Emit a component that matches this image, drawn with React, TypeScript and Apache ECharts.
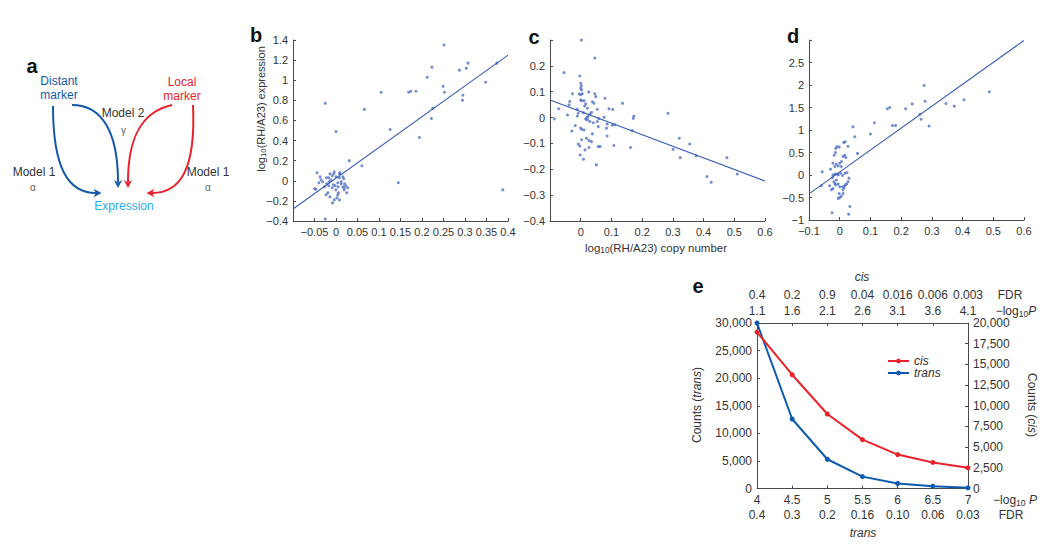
import React, { useEffect, useRef } from "react";
import * as echarts from "echarts";

const FONT = "Liberation Sans, Arial, Helvetica, sans-serif";
const AX = "#4a4a4a";
const TXT = "#333333";
const DOT = "#4f6fc4";
const FITC = "#3a5cb4";

// Panel b: log10 copy number vs log10 expression
const bPoints: number[][] = [
  [-0.025, 0.77], [0.0, 0.49], [0.066, 0.71], [0.105, 0.88], [0.126, 0.51], [0.145, -0.02],
  [0.169, 0.88], [0.174, 0.89], [0.186, 0.89], [0.194, 0.43], [0.212, 1.03], [0.223, 1.13],
  [0.222, 0.62], [0.225, 0.72], [0.249, 0.94], [0.252, 0.88], [0.251, 1.35], [0.287, 1.1],
  [0.295, 0.85], [0.294, 0.8], [0.303, 1.12], [0.307, 1.17], [0.348, 0.98], [0.374, 1.17],
  [0.388, -0.09], [0.031, 0.2], [0.06, 0.15], [-0.025, -0.38],
  [-0.044, 0.08], [-0.05, -0.08], [-0.047, -0.085], [-0.04, -0.02], [-0.035, 0.01], [-0.027, -0.06],
  [-0.022, -0.03], [-0.019, -0.12], [-0.023, -0.14], [-0.014, -0.16], [-0.008, -0.22], [-0.004, -0.19],
  [0.002, -0.17], [0.008, -0.19], [0.004, -0.14], [0.0, -0.09], [0.005, -0.06], [-0.004, 0.09],
  [0.0, 0.04], [0.008, 0.07], [0.008, 0.03], [0.016, 0.04], [0.012, -0.01], [0.016, -0.06],
  [0.019, -0.07], [0.019, -0.09], [0.023, -0.05], [0.025, -0.12], [0.027, -0.07], [-0.012, 0.01],
  [-0.016, -0.01], [-0.017, 0.03], [-0.009, 0.05], [-0.006, -0.04], [-0.002, -0.05], [-0.022, 0.03],
  [-0.031, -0.01], [0.009, 0.08], [-0.005, 0.07], [-0.014, 0.07], [-0.009, -0.07], [0.006, -0.12],
  [0.012, -0.03], [0.018, 0.02], [0.004, -0.02], [-0.017, -0.05], [-0.037, 0.04], [0.02, -0.03],
];
const bFit: number[][] = [[-0.1, -0.28], [0.4, 1.25]];

// Panel c
const cPoints: number[][] = [
  [0.002, 0.3], [0.046, 0.23], [-0.054, 0.174], [-0.003, 0.161], [0.0, 0.133], [0.002, 0.123],
  [0.0, 0.114], [0.003, 0.107], [-0.027, 0.092], [-0.005, 0.091], [0.0, 0.088], [0.005, 0.092],
  [0.026, 0.099], [0.046, 0.092], [0.049, 0.081], [0.079, 0.075], [-0.036, 0.062], [0.0, 0.068],
  [0.003, 0.065], [0.011, 0.065], [0.016, 0.053], [0.038, 0.061], [0.043, 0.055], [0.136, 0.055],
  [-0.038, 0.049], [-0.072, 0.034], [-0.011, 0.032], [0.022, 0.036], [0.054, 0.032], [0.092, 0.034],
  [0.104, 0.031], [0.284, 0.017], [-0.043, 0.01], [-0.011, 0.006], [-0.008, 0.017], [0.009, 0.019],
  [0.024, 0.004], [0.03, 0.014], [0.173, 0.006], [0.171, -0.003], [-0.086, -0.005], [0.016, -0.006],
  [0.022, -0.009], [0.03, -0.015], [0.054, -0.015], [0.059, -0.004], [0.076, 0.001], [0.086, -0.025],
  [0.103, -0.03], [0.111, -0.028], [-0.018, -0.031], [0.0, -0.041], [0.003, -0.045], [0.011, -0.048],
  [-0.029, -0.052], [0.057, -0.035], [0.084, -0.041], [0.168, -0.05], [0.038, -0.063], [0.086, -0.071],
  [0.019, -0.08], [0.003, -0.086], [0.035, -0.093], [0.027, -0.089], [0.321, -0.08], [-0.008, -0.102],
  [-0.003, -0.11], [0.355, -0.102], [0.108, -0.108], [0.057, -0.112], [0.063, -0.112], [0.027, -0.116],
  [0.162, -0.116], [0.301, -0.123], [0.014, -0.125], [-0.002, -0.145], [0.376, -0.148], [0.324, -0.155],
  [0.476, -0.155], [0.009, -0.161], [0.051, -0.183], [0.51, -0.218], [0.411, -0.228], [0.425, -0.25],
  [0.013, 0.045], [0.02, 0.0], [0.035, 0.02], [0.041, -0.02],
];
const cFit: number[][] = [[-0.1, 0.068], [0.6, -0.245]];

// Panel d
const dPoints: number[][] = [
  [-0.057, 0.07], [-0.06, -0.24], [-0.025, -0.84], [0.029, -0.87], [0.033, -0.7], [-0.033, -0.24],
  [-0.027, -0.33], [-0.022, -0.3], [-0.03, 0.13], [-0.024, -0.06], [-0.016, -0.19], [-0.013, -0.22],
  [-0.005, -0.52], [0.0, -0.5], [-0.011, -0.11], [-0.008, 0.02], [-0.005, 0.0], [-0.002, -0.41],
  [0.005, -0.47], [0.011, -0.41], [0.016, -0.24], [0.02, -0.21], [0.022, -0.2], [0.011, -0.33],
  [0.009, -0.26], [0.0, -0.26], [-0.005, -0.2], [0.027, -0.15], [0.03, -0.07], [-0.022, 0.26],
  [-0.016, 0.19], [-0.011, 0.24], [-0.005, 0.2], [0.0, 0.26], [0.005, 0.19], [-0.013, 0.59],
  [-0.009, 0.63], [-0.002, 0.62], [-0.018, 0.44], [-0.014, 0.5], [0.011, 0.41], [0.016, 0.44],
  [0.02, 0.39], [0.013, 0.72], [0.018, 0.74], [0.027, 0.64], [0.058, 0.48], [0.049, 0.85],
  [0.043, 1.07], [0.1, 0.91], [0.113, 1.16], [0.155, 1.47], [0.163, 1.5], [0.172, 1.1],
  [0.182, 1.1], [0.215, 1.47], [0.236, 1.58], [0.261, 1.35], [0.265, 1.24], [0.275, 1.99],
  [0.278, 1.64], [0.291, 1.09], [0.346, 1.59], [0.373, 1.53], [0.405, 1.67], [0.487, 1.85],
  [-0.022, 0.0], [-0.016, 0.02], [0.003, 0.04], [0.009, -0.01], [0.017, 0.04], [0.006, 0.3],
  [0.014, -0.28], [-0.019, -0.15], [0.024, 0.05],
];
const dFit: number[][] = [[-0.1, -0.42], [0.6, 2.99]];

// Panel e
const eX = [4, 4.5, 5, 5.5, 6, 6.5, 7];
const transCounts = [30000, 12600, 5300, 2150, 900, 420, 120];
const cisCounts = [18900, 13750, 9000, 5900, 4100, 3150, 2500];
const transFdr = ["0.4", "0.3", "0.2", "0.16", "0.10", "0.06", "0.03"];
const cisFdr = ["0.4", "0.2", "0.9", "0.04", "0.016", "0.006", "0.003"];
const cisLogP = ["1.1", "1.6", "2.1", "2.6", "3.1", "3.6", "4.1"];

const RED = "#e8232b";
const BLUE = "#0c5aad";
const DBLUE = "#1458a8";
const CYAN = "#2caee6";

function fmt(v: number): string {
  return String(parseFloat(v.toFixed(4))).replace("-", "\u2212");
}

const axisLine = { show: true, onZero: false, lineStyle: { color: AX, width: 1 } };
const axisTick = { show: true, inside: true, length: 3, lineStyle: { color: AX } };
const lbl = (fontSize: number, formatter: any, extra: any = {}) => ({
  fontSize, color: TXT, fontFamily: FONT, margin: 5, formatter, ...extra,
});

function valAxis(grid: number, min: number, max: number, interval: number, hide: number[], extra: any = {}) {
  return {
    gridIndex: grid, type: "value", min, max, interval,
    axisLine, axisTick, splitLine: { show: false },
    axisLabel: lbl(11, (v: number) => (hide.some((h) => Math.abs(h - v) < 1e-9) ? "" : fmt(v))),
    ...extra,
  };
}

const idx = (v: number) => Math.round((v - 4) / 0.5);

function arrowHead(tip: number[], dir: number[], color: string) {
  const [dx, dy] = dir;
  const px = -dy, py = dx;
  const L = 8, W = 4.2, N = 5.5;
  const p = [
    [tip[0], tip[1]],
    [tip[0] - dx * L + px * W, tip[1] - dy * L + py * W],
    [tip[0] - dx * N, tip[1] - dy * N],
    [tip[0] - dx * L - px * W, tip[1] - dy * L - py * W],
  ];
  return { type: "polygon", shape: { points: p }, style: { fill: color } };
}

function curve(x1: number, y1: number, c1x: number, c1y: number, c2x: number, c2y: number, x2: number, y2: number, color: string) {
  return {
    type: "bezierCurve",
    shape: { x1, y1, x2, y2, cpx1: c1x, cpy1: c1y, cpx2: c2x, cpy2: c2y },
    style: { stroke: color, lineWidth: 2, fill: "none" },
  };
}

function txt(x: number, y: number, text: string, opts: any = {}) {
  return {
    type: "text", x, y, rotation: opts.rotation || 0,
    style: {
      text, fill: opts.fill || TXT,
      fontSize: opts.fontSize || 12, fontFamily: FONT,
      fontWeight: opts.fontWeight || "normal", fontStyle: opts.fontStyle || "normal",
      align: "center", verticalAlign: "middle", rich: opts.rich,
    },
  };
}

const subRich = (size: number) => ({
  n: { fontSize: size, fontFamily: FONT, fill: TXT, color: TXT },
  s: { fontSize: size * 0.72, fontFamily: FONT, fill: TXT, color: TXT, verticalAlign: "bottom", padding: [size * 0.45, 0, 0, 0] },
  i: { fontSize: size, fontFamily: FONT, fontStyle: "italic", fill: TXT, color: TXT },
});

export default function App() {
  const ref = useRef<HTMLDivElement>(null);
  useEffect(() => {
    document.body.style.margin = "0";
    const chart = echarts.init(ref.current!, null, { renderer: "svg" });
    const graphic: any[] = [
      // panel letters
      txt(32, 66, "a", { fontSize: 20, fontWeight: "bold", fill: "#111" }),
      txt(256, 35, "b", { fontSize: 20, fontWeight: "bold", fill: "#111" }),
      txt(534, 37, "c", { fontSize: 20, fontWeight: "bold", fill: "#111" }),
      txt(793, 36, "d", { fontSize: 20, fontWeight: "bold", fill: "#111" }),
      txt(698, 286, "e", { fontSize: 20, fontWeight: "bold", fill: "#111" }),
      // panel a diagram
      txt(59, 81, "Distant", { fill: DBLUE }),
      txt(59, 94.5, "marker", { fill: DBLUE }),
      txt(182, 82, "Local", { fill: RED }),
      txt(182, 95.5, "marker", { fill: RED }),
      txt(123, 113, "Model 2"),
      txt(123.5, 130, "\u03b3", { fontSize: 10, fill: "#666" }),
      txt(34, 172, "Model 1"),
      txt(33, 187, "\u03b1", { fontSize: 10, fill: "#666" }),
      txt(208, 172, "Model 1"),
      txt(208, 187, "\u03b1", { fontSize: 10, fill: "#666" }),
      txt(124, 206, "Expression", { fill: CYAN }),
      curve(53, 106, 53, 168, 68, 193, 96, 193, DBLUE),
      curve(72, 105, 102, 105, 118, 132, 118, 182, DBLUE),
      curve(172, 105, 140, 112, 128, 140, 128, 182, RED),
      curve(193, 105, 196, 170, 180, 193, 152, 193, RED),
      arrowHead([101.5, 193], [1, 0], DBLUE),
      arrowHead([118, 188], [0, 1], DBLUE),
      arrowHead([128, 188], [0, 1], RED),
      arrowHead([146.5, 193], [-1, 0], RED),
      // axis titles
      txt(261, 109, "{n|log}{s|10}{n|(RH/A23) expression}", { rotation: Math.PI / 2, rich: subRich(11) }),
      txt(656, 248, "{n|log}{s|10}{n|(RH/A23) copy number}", { rich: subRich(11.5) }),
      txt(697, 405, "{n|Counts (}{i|trans}{n|)}", { rotation: Math.PI / 2, rich: subRich(12) }),
      txt(1032, 405, "{n|Counts (}{i|cis}{n|)}", { rotation: -Math.PI / 2, rich: subRich(12) }),
      txt(862, 277, "cis", { fontStyle: "italic" }),
      txt(863, 533, "trans", { fontStyle: "italic" }),
      txt(1010, 294.5, "FDR"),
      txt(1016, 311, "{n|\u2212log}{s|10}{i|P}", { rich: subRich(12) }),
      txt(1015, 500, "{n|\u2212log}{s|10}{n| }{i|P}", { rich: subRich(12) }),
      txt(1011, 515, "FDR"),
    ];

    const option: any = {
      animation: false,
      backgroundColor: "#ffffff",
      textStyle: { fontFamily: FONT },
      grid: [
        { left: 293, top: 40, width: 215, height: 181 },
        { left: 550, top: 40, width: 215, height: 181 },
        { left: 809, top: 40, width: 215, height: 180 },
        { left: 757, top: 323, width: 211, height: 165.5 },
      ],
      xAxis: [
        valAxis(0, -0.1, 0.4, 0.05, [-0.1]),
        valAxis(1, -0.1, 0.6, 0.1, [-0.1]),
        valAxis(2, -0.1, 0.6, 0.1, []),
        {
          gridIndex: 3, type: "value", min: 4, max: 7, interval: 0.5,
          axisLine, axisTick, splitLine: { show: false },
          axisLabel: lbl(12, (v: number) => `${fmt(v)}\n${transFdr[idx(v)]}`, { lineHeight: 15, margin: 4 }),
        },
        {
          gridIndex: 3, type: "value", position: "top", min: 4, max: 7, interval: 0.5,
          axisLine, axisTick, splitLine: { show: false },
          axisLabel: lbl(12, (v: number) => `${cisFdr[idx(v)]}\n${cisLogP[idx(v)]}`, { lineHeight: 16, margin: 4 }),
        },
      ],
      yAxis: [
        valAxis(0, -0.4, 1.4, 0.2, []),
        valAxis(1, -0.4, 0.3, 0.1, [0.3]),
        valAxis(2, -1, 3, 0.5, [3]),
        {
          gridIndex: 3, type: "value", min: 0, max: 30000, interval: 5000,
          axisLine, axisTick, splitLine: { show: false },
          axisLabel: lbl(12, (v: number) => v.toLocaleString("en-US")),
        },
        {
          gridIndex: 3, type: "value", position: "right", min: 0, max: 20000, interval: 2500,
          axisLine, axisTick, splitLine: { show: false },
          axisLabel: lbl(12, (v: number) => v.toLocaleString("en-US")),
        },
      ],
      legend: {
        data: ["cis", "trans"], orient: "vertical", left: 887, top: 355,
        padding: 0, itemGap: 0, itemWidth: 21, itemHeight: 6,
        textStyle: { fontSize: 12, lineHeight: 11, fontStyle: "italic", color: TXT, fontFamily: FONT },
      },
      series: [
        { type: "scatter", name: "b", xAxisIndex: 0, yAxisIndex: 0, data: bPoints, symbolSize: 3, itemStyle: { color: DOT } },
        { type: "line", name: "bfit", xAxisIndex: 0, yAxisIndex: 0, data: bFit, symbol: "none", lineStyle: { color: FITC, width: 1.1 } },
        { type: "scatter", name: "c", xAxisIndex: 1, yAxisIndex: 1, data: cPoints, symbolSize: 3, itemStyle: { color: DOT } },
        { type: "line", name: "cfit", xAxisIndex: 1, yAxisIndex: 1, data: cFit, symbol: "none", lineStyle: { color: FITC, width: 1.1 } },
        { type: "scatter", name: "d", xAxisIndex: 2, yAxisIndex: 2, data: dPoints, symbolSize: 3, itemStyle: { color: DOT } },
        { type: "line", name: "dfit", xAxisIndex: 2, yAxisIndex: 2, data: dFit, symbol: "none", lineStyle: { color: FITC, width: 1.1 } },
        {
          type: "line", name: "trans", xAxisIndex: 3, yAxisIndex: 3,
          data: eX.map((x, i) => [x, transCounts[i]]),
          symbol: "circle", symbolSize: 5, lineStyle: { color: BLUE, width: 2 }, itemStyle: { color: BLUE },
        },
        {
          type: "line", name: "cis", xAxisIndex: 3, yAxisIndex: 4,
          data: eX.map((x, i) => [x, cisCounts[i]]),
          symbol: "circle", symbolSize: 5, lineStyle: { color: RED, width: 2 }, itemStyle: { color: RED },
        },
      ],
      graphic,
    };
    chart.setOption(option);
    return () => chart.dispose();
  }, []);
  return <div ref={ref} style={{ position: "fixed", left: 0, top: 0, width: 1050, height: 551 }} />;
}
